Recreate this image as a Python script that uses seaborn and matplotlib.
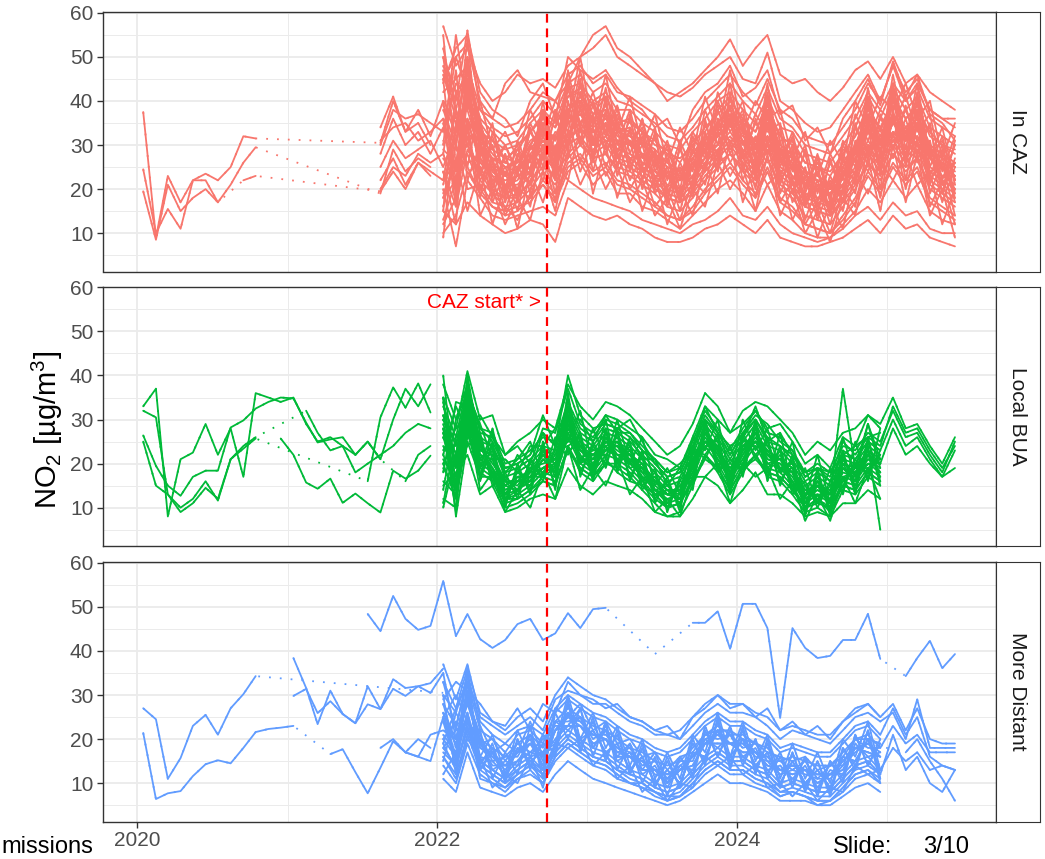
import numpy as np
import pandas as pd
import matplotlib
matplotlib.use("Agg")
import matplotlib.pyplot as plt
import matplotlib.dates as mdates
import seaborn as sns

# ---------------- data (monthly NO2, µg/m3) ----------------
PANELS = ["In CAZ", "Local BUA", "More Distant"]
COLORS = ["#F8766D", "#00BA38", "#619CFF"]
CAZ_START_DATE = "2022-09-26"
Y_TICKS = [10, 20, 30, 40, 50, 60]
Y_MINOR = [5, 15, 25, 35, 45, 55]
X_TICK_YEARS = [2020, 2022, 2024]
X_MINOR_YEARS = [2021, 2023, 2025]
N = None

# --- In CAZ ---
caz_e1 = [37.5, 9, 23, 17, 22, 23.5, 22, 25, 32, 31.5, N, N, N, N, N, N, N, N, N, 30.5, 40, 33, 35, 30]
caz_e2 = [24.5, 10, 15.5, 11, 22, 22, 17, 21, 26, 29.5, N, N, N, N, N, N, N, N, N, 19, 29, 24, 27, 25]
caz_e3 = [19.5, 8.5, 21, 15, 18, 20, 17, N, 22, 23, N, N, N, N, N, N, N, N, N, 19.5, 24, 20, 26, 23]
caz_01 = [57, 48, 52, 44, 40, 42, 46, 44, 45, 43, 48, 50, 52, 55, 50, 48, 46, 44, 40, 42, 44, 47, 50, 54, 48, 52, 55, 46, 44, 45, 42, 40, 43, 47, 49, 45, 50, 44, 46, 42, 40, 38]
caz_02 = [48, 40, 56, 38, 36, 44, 47, 42, 41, 40, 44, 50, 55, 57, 52, 50, 47, 44, 42, 41, 43, 46, 48, 50, 45, 44, 51, 40, 38, 35, 33, 34, 38, 42, 46, 40, 48, 40, 44, 38, 36, 36]
caz_03 = [15, 12, 17, 14, 12, 10, 11, 13, 12, 8, 18, 16, 14, 13, 14, 12, 11, 9, 8, 8, 9, 11, 12, 14, 12, 10, 13, 9, 8, 7, 7, 8, 9, 11, 13, 10, 14, 11, 12, 9, 8, 7]
caz_04 = [20, 7, 22, 18, 14, 13, 14, 15, 16, 14, 22, 20, 18, 17, 16, 15, 13, 12, 11, 10, 12, 13, 15, 18, 14, 13, 16, 12, 10, 9, 8, 9, 11, 14, 16, 13, 17, 14, 15, 11, 10, 10]
caz_05 = [34, 41, 33, 38, 32, 40, 35, 47, 36, 33, 30, 31, 35, 38, 35, 43, 44, 40, 42, 38, 38, 35, 33, 30, 29, 33, 36, 40, 42, 38, 35, 41, 34, 33, 28, 27, 26, 30, 34, 41, 36, 43, 38, 41, 34, 32, 30]
caz_06 = [28, 36, 30, 33, 28, 34, 30, 44, 31, 27, 26, 25, 30, 35, 31, 38, 41, 37, 38, 34, 33, 31, 29, 26, 24, 28, 32, 35, 39, 34, 31, 37, 30, 28, 24, 23, 21, 26, 30, 37, 32, 39, 34, 37, 30, 28, 26]
caz_07 = [25, 31, 27, 29, 31, 25, 33, 36, 30, 22, 24, 20, 27, 29, 28, 32, 38, 30, 35, 29, 31, 26, 24, 23, 20, 23, 29, 30, 35, 28, 28, 32, 27, 23, 21, 18, 19, 21, 27, 30, 29, 33, 31, 32, 27, 23, 23]
caz_08 = [22, 27, 21, 26, 24, 22, 26, 30, 25, 20, 18, 19, 21, 27, 22, 30, 32, 28, 30, 26, 25, 23, 21, 18, 17, 20, 24, 27, 30, 26, 23, 29, 22, 20, 16, 15, 14, 18, 22, 28, 24, 30, 26, 29, 22, 20, 18]
caz_09 = [18, 22, 28, 20, 16, 14, 15, 18, 22, 19, 26, 28, 24, 26, 22, 21, 19, 17, 14, 13, 16, 20, 23, 26, 22, 19, 25, 18, 16, 12, 11, 10, 14, 18, 24, 20, 26, 22, 25, 18, 16, 14]
caz_10 = [45, 50, 53, 40, 36, 34, 35, 38, 42, 40, 46, 48, 44, 46, 42, 41, 39, 37, 34, 33, 36, 40, 43, 46, 42, 39, 45, 38, 36, 32, 31, 30, 34, 38, 44, 40, 48, 42, 45, 38, 36, 34]
caz_11 = [31, 34, 35, 31, 33, 36, 24, 42, 32, 26, 23, 24, 28, 31, 29, 36, 37, 34, 36, 32, 31, 28, 27, 24, 23, 26, 30, 33, 36, 32, 29, 35, 28, 26, 22, 21, 20, 24, 28, 34, 30, 36, 32, 35, 28, 26, 24]
caz_12 = [20, 25, 23, 28, 26, 28, 20, 35, 27, 22, 21, 21, 24, 28, 25, 31, 34, 30, 32, 28, 27, 25, 23, 20, 19, 22, 26, 29, 32, 28, 25, 31, 24, 22, 18, 17, 16, 20, 24, 30, 26, 32, 28, 31, 24, 22, 20]
caz_13 = [52, 38, 50, 33, 31, 27, 29, 33, 36, 34, 41, 42, 37, 41, 35, 36, 33, 30, 29, 26, 31, 33, 38, 41, 35, 33, 40, 31, 31, 26, 25, 23, 28, 32, 39, 33, 41, 36, 38, 33, 30, 29]
caz_14 = [12, 18, 32, 22, 19, 16, 17, 20, 24, 21, 27, 30, 27, 28, 24, 23, 21, 19, 16, 15, 18, 22, 25, 28, 24, 21, 27, 20, 18, 14, 13, 12, 16, 20, 26, 22, 28, 24, 27, 20, 18, 16]
caz_15 = [42, 45, 48, 38, 34, 32, 33, 36, 40, 37, 44, 46, 42, 44, 40, 39, 37, 35, 32, 31, 34, 38, 41, 44, 40, 37, 43, 36, 34, 30, 29, 28, 32, 36, 42, 38, 44, 40, 43, 36, 34, 32]
caz_16 = [30, 38, 36, 37, 35, 33, 44, 41, 26, 25, 20, 23, 24, 32, 26, 37, 33, 33, 31, 31, 27, 28, 23, 23, 19, 25, 27, 33, 31, 31, 25, 35, 24, 25, 18, 20, 16, 23, 24, 34, 26, 36, 28, 35, 24, 25, 20]
caz_17 = [38, 30, 45, 34, 29, 27, 26, 31, 33, 32, 39, 40, 35, 39, 33, 34, 30, 28, 26, 24, 27, 31, 35, 38, 33, 31, 38, 29, 28, 24, 22, 21, 25, 30, 37, 31, 40, 33, 36, 29, 27, 25]
caz_18 = [24, 16, 29, 24, 19, 18, 18, 22, 25, 23, 28, 31, 27, 28, 25, 24, 22, 20, 18, 17, 19, 23, 26, 28, 25, 22, 27, 21, 19, 16, 15, 14, 17, 21, 26, 23, 28, 25, 27, 21, 19, 17]
caz_19 = [46, 36, 39, 32, 28, 25, 26, 30, 34, 31, 38, 40, 36, 37, 33, 32, 30, 28, 25, 24, 27, 31, 34, 37, 33, 30, 36, 29, 27, 23, 22, 21, 25, 29, 35, 31, 37, 33, 36, 29, 27, 25]
caz_20 = [27, 22, 33, 29, 23, 22, 23, 25, 30, 26, 33, 35, 31, 33, 29, 28, 26, 24, 21, 20, 23, 27, 30, 33, 29, 26, 32, 25, 23, 19, 18, 17, 21, 25, 31, 27, 33, 29, 32, 25, 23, 21]
caz_21 = [31, 29, 26, 27, 24, 21, 22, 27, 31, 28, 35, 37, 33, 35, 31, 30, 28, 26, 23, 22, 25, 29, 32, 35, 31, 28, 34, 27, 25, 21, 20, 19, 23, 27, 33, 29, 35, 31, 34, 27, 25, 23]
caz_22 = [19, 25, 36, 26, 23, 19, 20, 23, 28, 24, N, N, 29, 31, 27, 26, 24, 22, 19, 18, 21, 25, 28, 31, 27, 24, 30, 23, 21, 17, 16, 15, 19, 23, 29, 25, 31, 27, 30, 23, 21, 19]
caz_23 = [10, 14, 24, 19, 16, 15, 16, 17, 21, 18, 25, 27, 23, 25, 21, 20, 18, 16, 14, 13, 15, 19, 22, 25, 21, 18, 24, 17, 15, 12, 11, 10, 13, 17, 23, 19, 25, 21, 24, 17, 15, 13]
caz_24 = [50, 42, 46, 35, 31, 29, 30, 33, 37, 34, 41, 43, 39, 41, 36, 35, 33, 31, 28, 27, 30, 34, 37, 40, 36, 33, 39, 32, 30, 26, 25, 24, 28, 32, 38, 34, 40, 36, 39, 32, 30, 28]
caz_25 = [35, 20, 44, 23, 30, 18, 27, 21, 35, 23, 40, 30, 37, 28, 35, 24, 32, 20, 27, 17, 29, 24, 36, 28, 35, 22, 38, 21, 29, 16, 24, 14, 27, 21, 37, 23, 41, 25, 38, 21, 29, 17]
caz_26 = [22, 38, 30, 35, 18, 28, 17, 30, 24, 32, 29, 42, 26, 38, 25, 34, 22, 29, 18, 26, 20, 33, 26, 39, 24, 32, 28, 31, 19, 25, 15, 23, 17, 31, 27, 34, 29, 36, 27, 31, 19, 27]
caz_27 = [44, 52, 55, 42, 38, 36, 32, 40, 44, 36, 50, 47, 45, 47, 43, 40, 38, 34, 36, 30, 38, 42, 44, 48, 41, 43, 47, 37, 39, 31, 34, 28, 36, 40, 45, 39, 49, 41, 46, 37, 35, 31]
caz_28 = [16, 30, 20, 21, 17, 16, 13, 19, 21, 17, 24, 26, 21, 24, 19, 19, 16, 15, 13, 11, 14, 17, 20, 22, 19, 15, 21, 15, 13, 10, 9, 9, 12, 15, 20, 17, 22, 18, 21, 15, 13, 12]
caz_29 = [39, 33, 49, 30, 27, 25, 24, 29, 33, 29, 38, 40, 35, 37, 33, 32, 30, 28, 25, 24, 27, 31, 34, 37, 33, 30, 36, 29, 27, 23, 22, 21, 25, 29, 35, 31, 37, 33, 36, 29, 27, 25]
caz_30 = [29, 26, 40, 30, 25, 23, 24, 27, 31, 28, 35, 37, 33, 35, 31, 30, 28, 26, 23, 22, 25, 29, 32, 35, 31, 28, 34, 27, 25, 21, 20, 19, 23, 27, 33, 29, 35, 31, 34, 27, 25, 23]
caz_31 = [45, 18, 50, 31, 21, 25, 19, 30, 27, 33, 31, 40, 28, 37, 27, 33, 24, 28, 19, 25, 21, 32, 28, 37, 27, 31, 30, 29, 21, 24, 16, 22, 19, 30, 29, 32, 31, 34, 30, 30, 21, 26]
caz_32 = [15, 42, 30, 22, 27, 17, 25, 21, 34, 22, 38, 30, 36, 29, 33, 25, 30, 21, 25, 17, 27, 24, 35, 29, 33, 23, 37, 22, 27, 16, 22, 14, 25, 22, 36, 24, 38, 26, 37, 22, 27, 18]
caz_33 = [55, 25, 47, 35, 26, 30, 24, 33, 28, 36, 30, 44, 30, 40, 28, 36, 25, 32, 20, 29, 22, 35, 27, 41, 28, 35, 31, 33, 22, 28, 17, 26, 20, 34, 28, 36, 32, 38, 31, 34, 22, 30]
caz_34 = [9, 35, 25, 19, 22, 14, 20, 18, 28, 17, 33, 24, 31, 23, 28, 20, 25, 16, 20, 13, 22, 19, 29, 23, 28, 18, 31, 17, 22, 12, 17, 10, 20, 16, 30, 18, 33, 20, 31, 16, 22, 12]
caz_35 = [33, 50, 42, 24, 30, 19, 28, 23, 37, 24, 43, 31, 39, 30, 36, 26, 33, 22, 28, 18, 30, 25, 38, 30, 36, 24, 40, 23, 30, 17, 25, 15, 28, 23, 39, 25, 42, 27, 40, 23, 30, 19]
caz_36 = [24, 12, 45, 36, 20, 28, 18, 34, 25, 37, 29, 45, 27, 41, 25, 37, 22, 33, 17, 30, 19, 36, 24, 42, 25, 36, 28, 34, 19, 29, 14, 27, 17, 35, 25, 37, 29, 39, 28, 35, 19, 31]
caz_37 = [40, 22, 35, 18, 33, 26, 30, 19, 38, 28, 45, 33, 40, 32, 37, 30, 34, 24, 30, 20, 32, 27, 40, 33, 38, 26, 42, 25, 32, 19, 27, 17, 30, 25, 41, 27, 44, 29, 42, 25, 32, 21]
caz_38 = [28, 47, 22, 30, 17, 24, 15, 28, 22, 30, 27, 39, 24, 35, 23, 31, 20, 27, 16, 24, 18, 31, 24, 36, 22, 30, 26, 28, 17, 23, 13, 21, 15, 29, 24, 31, 27, 33, 26, 29, 17, 25]
caz_39 = [50, 30, 54, 27, 35, 20, 31, 24, 40, 26, 47, 34, 42, 33, 39, 28, 36, 25, 31, 22, 33, 28, 42, 34, 40, 27, 44, 26, 33, 20, 28, 18, 31, 26, 43, 28, 46, 31, 44, 27, 34, 22]
caz_40 = [18, 27, 15, 25, 12, 21, 11, 24, 17, 26, 22, 34, 19, 30, 18, 27, 15, 23, 12, 20, 14, 26, 19, 31, 17, 26, 21, 24, 13, 19, 9, 17, 11, 24, 19, 26, 22, 28, 21, 24, 12, 20]
caz_41 = [36, 16, 41, 33, 24, 30, 23, 35, 29, 38, 33, 47, 31, 43, 30, 38, 27, 34, 22, 31, 24, 38, 30, 44, 30, 37, 33, 35, 24, 30, 19, 28, 22, 37, 31, 38, 35, 41, 33, 37, 24, 32]
caz_42 = [21, 33, 48, 20, 26, 15, 24, 16, 30, 19, 36, 26, 34, 25, 31, 22, 28, 19, 24, 15, 26, 21, 33, 26, 31, 20, 35, 19, 26, 13, 21, 12, 24, 19, 34, 20, 37, 22, 35, 19, 26, 14]
caz_43 = [47, 38, 25, 40, 29, 33, 27, 38, 32, 40, 36, 50, 34, 46, 33, 41, 30, 37, 26, 34, 28, 41, 33, 47, 33, 40, 36, 38, 27, 33, 23, 31, 26, 40, 34, 41, 38, 44, 36, 40, 27, 35]
caz_44 = [13, 22, 34, 14, 20, 12, 18, 13, 24, 15, 29, 21, 27, 20, 25, 17, 22, 14, 18, 11, 20, 16, 26, 20, 25, 15, 28, 14, 20, 10, 15, 8, 18, 14, 27, 15, 30, 17, 28, 14, 20, 9]
caz_45 = [30, 55, 38, 28, 32, 23, 29, 26, 38, 27, 44, 35, 40, 33, 38, 30, 35, 27, 29, 22, 31, 29, 39, 35, 37, 29, 41, 28, 31, 21, 26, 20, 29, 28, 40, 30, 43, 31, 41, 28, 31, 22]
caz_series = [caz_e1, caz_e2, caz_e3, caz_01, caz_02, caz_03, caz_04, caz_05, caz_06, caz_07, caz_08,
              caz_09, caz_10, caz_11, caz_12, caz_13, caz_14, caz_15, caz_16, caz_17, caz_18, caz_19,
              caz_20, caz_21, caz_22, caz_23, caz_24, caz_25, caz_26, caz_27, caz_28, caz_29, caz_30,
              caz_31, caz_32, caz_33, caz_34, caz_35, caz_36, caz_37, caz_38, caz_39, caz_40, caz_41,
              caz_42, caz_43, caz_44, caz_45]
caz_starts = ["2020-01", "2020-01", "2020-01", "2022-01", "2022-01", "2022-01", "2022-01", "2021-08", "2021-08",
              "2021-08", "2021-08", "2022-01", "2022-01", "2021-08", "2021-08", "2022-01", "2022-01", "2022-01",
              "2021-08"] + ["2022-01"] * 29

# --- Local BUA ---
bua_e1 = [33, 37, 8, 21, 22.5, 29, 22, 28, 17, 36, 35, 34, 35, 29, 25, 26, 24, 22, 25, 21, 30, 37, 33, 38]
bua_e2 = [32, 30.5, 13, 9, 11, 14.5, 12, 21, 24, 26, N, N, N, 32, 27, 23, 24, 18, 20, 22, 24, 27, 29, 28]
bua_e3 = [26.4, 19.5, 15, 12.7, 17, 18.4, 18.4, 28.2, 29.8, 32.5, 34, 35, 34.8, 29.3, 24.8, 25.5, 26, 22, 25, 21, N, 16, 22, 24]
bua_e4 = [25, 15, 13, 10, 12, 16, 11.6, 21, 23.4, 25.7, N, N, N, N, N, N, N, N, 16, 30.5, 37.3, 32.7, 38.2, 31.6]
bua_e5 = [25.7, 22, 15.7, 14.3, 16.6, 11.1, 13.2, 11, 8.9, 18.4, 16.6, 18.4, 21.8]
bua_01 = [35, 28, 41, 30, 31, 22, 25, 27, 30, 28, 38, 33, 30, 34, 33, 31, 28, 25, 22, 24, 29, 36, 33, 27, 32, 34, 33, 30, 27, 22, 25, 23, 27, 28, 31, 29, 35, 28, 29, 24, 20, 26]
bua_02 = [31, 24, 37, 28, 27, 20, 21, 23, 26, 25, 34, 28, 26, 30, 29, 27, 24, 21, 18, 19, 25, 32, 28, 23, 28, 32, 27, 26, 23, 18, 20, 18, 24, 23, 27, 25, 32, 26, 27, 22, 18, 25]
bua_03 = [29, 20, 35, 26, 24, 18, 19, 21, 24, 23, 32, 26, 24, 28, 27, 25, 22, 19, 16, 17, 23, 30, 26, 21, 26, 30, 25, 24, 21, 16, 18, 16, 22, 21, 25, 23, 30, 24, 26, 21, 17, 23]
bua_04 = [26, 17, 33, 22, 21, 14, 16, 17, 21, 19, 29, 23, 20, 25, 23, 21, 19, 15, 13, 14, 19, 27, 22, 18, 22, 27, 21, 20, 18, 13, 14, 13, 19, 18, 22, 20, 28, 22, 24, 20, 17, 19]
bua_05 = [38, 30, 36, 28, 25, 19, 20, 22, 31, 24, 40, 31, 28, 29, 28, 30, 25, 20, 17, 18, 24, 31, 27, 22, 27, 31, 29, 25, 23, 17, 19, 17, 25, 22, 26, 24, 33, 27, 28, 23, 19, 24]
bua_06 = [22, 15, 30, 20, 18, 12, 13, 15, 18, 17, 26, 20, 18, 22, 21, 19, 16, 13, 10, 11, 17, 24, 20, 15, 20, 24, 19, 18, 15, 10, 12, 10, 16, 15, 19, 17]
bua_07 = [20, 12, 28, 18, 16, 10, 11, 13, 16, 15, 24, 18, 16, 20, 19, 17, 14, 11, 8, 9, 15, 22, 18, 13, 18, 22, 17, 16, 13, 9, 10, 8, 14, 13, 17, 15]
bua_08 = [30, 22, 36, 25, 24, 17, 18, 20, 23, 22, 31, 25, 23, 27, 26, 24, 21, 18, 15, 16, 22, 29, 25, 20, 25, 29, 24, 23, 20, 15, 17, 15, 21, 20, 24, 22]
bua_09 = [12, 10, 40, 24, 19, 13, 16, 16, 19, 20, 27, 21, 21, 23, 24, 20, 19, 14, 13, 12, 20, 25, 23, 16, 23, 25, 22, 19, 18, 11, 15, 11, 19, 16, 22, 18]
bua_10 = [35, 8, 25, 17, 17, 11, 12, 14, 17, 16, 23, 19, 17, 21, 18, 16, 15, 12, 10, 11, 16, 21, 19, 14, 19, 21, 18, 17, 14, 10, 11, 10, 15, 14, 18, 16]
bua_11 = [24, 19, 31, 23, 22, 15, 17, 18, 22, 18, 30, 24, 21, 26, 22, 22, 20, 16, 13, 15, 20, 28, 23, 19, 23, 28, 22, 21, 19, 14, 15, 14, 20, 19, 23, 21]
bua_12 = [27, 21, 34, 24, 20, 16, 15, 19, 20, 21, 26, 24, 22, 24, 25, 23, 18, 17, 14, 13, 21, 25, 24, 18, 24, 25, 23, N, 19, 13, 16, 13, 21, 17, 21, 20]
bua_13 = [16, 13, 27, 19, 17, 12, 12, 14, 16, 15, 24, 19, 17, 20, 20, 18, 15, 13, 10, 11, 16, 22, 19, 14, 19, 22, 18, 17, 14, 10, 12, 9, 15, 14, 18, 16]
bua_14 = [33, 26, 38, 27, 26, 19, 20, 22, 27, 24, 33, 27, 25, 29, 28, 26, 23, 20, 17, 18, 24, 30, 27, 22, 27, 30, 26, 24, 22, 17, 19, 16, 23, 21, 25, 23]
bua_15 = [19, 14, 29, 21, 19, 13, 14, 16, 19, 18, 27, 21, 19, 23, 22, 20, 17, 14, 11, 12, 18, 25, 21, 16, 21, 25, 20, 19, 16, 11, 13, 11, 17, 16, 20, 18]
bua_16 = [23, 28, 31, 21, 24, 13, 18, 16, 23, 18, 31, 21, 23, 23, 26, 20, 21, 14, 15, 12, 22, 25, 25, 16, 25, 25, 24, 19, 20, 11, 17, 11, 21, 16, 24, 5]
bua_17 = [28, 20, 33, 23, 22, 16, 16, 19, 22, 20, 29, 23, 21, 25, 24, 22, 19, 16, 13, 14, 20, 27, 23, 18, 23, 27, 22, 21, 18, 13, 15, 13, 37, 19, 29, 21]
bua_18 = [21, 16, 32, 22, 19, 12, 14, 17, 17, 19, 28, 22, 18, 24, 21, 21, 18, 14, 12, 13, 19, 26, 22, 17, 22, 26, 21, 20, 17, 12, 14, 12, 18, 17, 21, 19]
bua_19 = [35, 12, 26, 26, 15, 18, 12, 21, 16, 24, 22, 27, 16, 28, 19, 25, 14, 19, 9, 17, 15, 30, 18, 21, 18, 30, 17, 24, 13, 16, 10, 16, 14, 21, 17, 23]
bua_20 = [14, 30, 38, 17, 24, 11, 19, 14, 24, 15, 33, 18, 24, 20, 27, 17, 22, 12, 16, 10, 23, 22, 26, 14, 26, 22, 25, 16, 21, 9, 18, 9, 22, 14, 25, 16]
bua_21 = [28, 9, 35, 25, 17, 16, 13, 19, 18, 22, 25, 25, 18, 26, 21, 23, 16, 17, 11, 15, 17, 28, 20, 19, 20, 28, 19, 22, 15, 14, 12, 14, 16, 19, 19, 21]
bua_22 = [20, 25, 28, 19, 23, 12, 17, 15, 23, 17, 31, 20, 22, 22, 25, 19, 20, 13, 14, 11, 21, 24, 24, 15, 24, 24, 23, 18, 19, 10, 16, 10, 20, 15, 23, 17]
bua_23 = [40, 15, 30, 24, 18, 15, 14, 18, 19, 21, 26, 24, 19, 25, 22, 22, 17, 16, 13, 14, 18, 27, 21, 18, 21, 27, 20, 21, 16, 13, 13, 13, 17, 18, 20, 20]
bua_24 = [10, 22, 36, 20, 21, 13, 16, 16, 21, 18, 29, 21, 21, 23, 24, 20, 19, 14, 13, 12, 20, 25, 23, 16, 23, 25, 22, 19, 18, 11, 15, 11, 19, 16, 22, 18]
bua_25 = [31, 20, 24, 27, 16, 17, 14, 20, 17, 23, 24, 26, 17, 27, 20, 24, 15, 18, 10, 16, 16, 29, 19, 20, 19, 29, 18, 23, 14, 15, 11, 15, 15, 20, 18, 22]
bua_26 = [18, 34, 33, 16, 25, 10, 20, 13, 25, 14, 35, 17, 25, 19, 28, 16, 23, 11, 17, 9, 24, 21, 27, 13, 27, 21, 26, 15, 22, 8, 19, 8, 23, 13, 26, 15]
bua_27 = [27, 14, 39, 21, 19, 15, 17, 17, 22, 21, 30, 23, 22, 25, 25, 22, 20, 16, 14, 14, 21, 27, 24, 18, 24, 27, 23, 21, 19, 13, 16, 13, 20, 18, 23, 20]
bua_28 = [30, 25, 29, 31, 26, 22, 24, 20, 28, 27, 37, 29, 27, 31, 30, 28, 26, 22, 21, 19, 26, 33, 30, 27, 29, 32, 28, 29, 25, 20, 22, 19, 26, 24, 31, 28]
bua_29 = [15, 18, 22, 13, 15, 9, 10, 12, 13, 12, 19, 15, 13, 16, 15, 14, 12, 9, 8, 8, 12, 17, 15, 11, 14, 18, 13, 13, 11, 8, 9, 8, 11, 11, 14, 12]
bua_30 = [22, 33, 27, 17, 27, 18, 21, 25, 17, 26, 25, 32, 19, 30, 18, 26, 21, 21, 15, 19, 14, 30, 19, 24, 17, 29, 16, 27, 14, 19, 11, 19, 13, 25, 16, 28]
bua_31 = [34, 19, 36, 29, 21, 21, 18, 24, 24, 28, 30, 30, 25, 31, 27, 27, 23, 21, 18, 20, 23, 33, 27, 24, 26, 33, 25, 27, 22, 18, 19, 18, 22, 24, 26, 27]
bua_32 = [11, 26, 30, 14, 18, 9, 14, 10, 18, 12, 24, 14, 19, 15, 21, 13, 17, 9, 12, 8, 17, 17, 20, 11, 20, 17, 19, 12, 16, 7, 13, 7, 17, 11, 19, 12]
bua_33 = [26, 21, 38, 19, 28, 16, 22, 18, 27, 19, 36, 20, 28, 21, 30, 20, 26, 15, 19, 13, 26, 23, 30, 17, 30, 23, 28, 18, 25, 12, 22, 11, 26, 17, 29, 19]
bua_series = [bua_e1, bua_e2, bua_e3, bua_e4, bua_e5, bua_01, bua_02, bua_03, bua_04, bua_05, bua_06, bua_07,
              bua_08, bua_09, bua_10, bua_11, bua_12, bua_13, bua_14, bua_15, bua_16, bua_17, bua_18,
              bua_19, bua_20, bua_21, bua_22, bua_23, bua_24, bua_25, bua_26, bua_27, bua_28, bua_29,
              bua_30, bua_31, bua_32, bua_33]
bua_starts = ["2020-01", "2020-01", "2020-01", "2020-01", "2020-12"] + ["2022-01"] * 33

# --- More Distant ---
dist_e1 = [27, 24.5, 11, 15.7, 23, 25.5, 21, 27, 30.2, 34.3, N, N, N, N, N, N, N, N, N, N, N, N, N, N, 30.5]
dist_e2 = [21.4, 6.4, 7.7, 8.2, 11.6, 14.3, 15.2, 14.5, 18, 21.6, 22.3, 22.6, 23, N, N, 16.6, 17.7, 12.5, 7.7, 13.5, 19.5, 17, 20, 18]
dist_e3 = [38.4, 31.6, 23.4, 31, 25.7, 23.6, 32, 26.8, 33.6, 31.6, 32, 32.7, 36]
dist_e4 = [29.8, 31.4, 25.9, 28.6, 25.7, 23.6, 27.9, 26.8, 31.4, 29.8, 32, 30.5, 35]
dist_top = [48.4, 44.5, 52.5, 47.3, 44.8, 45.7, 55.9, 43.4, 48.4, 42.7, 40.7, 42.5, 46.1, 47.3, 42.5, 44, 48.6, 45.2,
            49.5, 49.8, N, N, N, 39.3, N, N, 46.4, 46.4, 49, 40.5, 50.7, 50.7, 45.2, 24.8, 45.2, 40.7, 38.4, 38.9,
            42.5, 42.5, 48.4, 38.2, N, 34.3, 38.4, 42.3, 36.1, 39.3]
dist_01 = [33, 27, 36, 26, 24, 22, 25, 27, 24, 30, 34, 32, 30, 29, 27, 25, 24, 22, 21, 22, 25, 28, 30, 28, 28, 26, 25, 22, 23, 22, 21, 21, 24, 27, 28, 25, 28, 22, 27, 20, 19, 19]
dist_02 = [37, 29, 37, 25, 23, 21, 23, 25, 22, 29, 31, 30, 28, 28, 26, 24, 23, 21, 21, 20, 23, 26, 28, 26, 26, 25, 23, 20, 22, 21, 20, 19, 22, 25, 26, 24, 26, 20, 29, 18, 18, 18]
dist_03 = [26, 20, 30, 20, 18, 16, 19, 21, 18, 24, 27, 25, 23, 22, 20, 18, 17, 15, 14, 15, 18, 21, 23, 21, 21, 19, 18, 15, 16, 15, 14, 14, 17, 20, 21, 18, 23, 19, 21, 17, 17, 17]
dist_04 = [20, 16, 25, 15, 13, 11, 14, 16, 13, 19, 22, 20, 18, 17, 15, 13, 12, 10, 9, 10, 13, 16, 18, 16, 16, 14, 13, 10, 11, 10, 9, 9, 12, 15, 16, 13, 18, 15, 17, 13, 14, 13]
dist_05 = [24, 19, 28, 19, 16, 14, 17, 19, 16, 22, 25, 23, 21, 20, 18, 16, 15, 13, 12, 13, 16, 19, 21, 19, 19, 17, 16, 13, 14, 13, 12, 12, 15, 18, 19, N, N, 17, 20, 15, 11, 6]
dist_06 = [18, 14, 23, 14, 12, 10, 12, 14, 12, 17, 20, 18, 16, 15, 13, 11, 10, 8, 7, 8, 11, 14, 16, 14, 14, 12, 11, 8, 9, 8, 7, 7, 10, 13, 14, 12]
dist_07 = [18, 20, 17, 16, 21, 22, 20, 31, 18, 16, 13, 17, 20, 14, 22, 26, 24, 21, 20, 17, 16, 15, 12, 11, 13, 16, 19, 22, 19, 19, 16, 15, 12, 13, 12, 11, 11, 14, 17, 19, 16]
dist_08 = [16, 12, 21, 13, 11, 9, 12, 14, 11, 16, 19, 17, 15, 14, 12, 10, 10, 8, 7, 7, 10, 13, 15, 13, 13, 11, 10, 8, 8, 7, 6, 6, 9, 12, 13, 11]
dist_09 = [28, 23, 33, 22, 20, 17, 21, 22, 19, 26, 29, 27, 25, 24, 22, 20, 19, 17, 16, 17, 20, 23, 25, 23, 23, 21, 20, 17, 18, 17, 16, 16, 19, 22, 23, 20]
dist_10 = [14, 10, 19, 12, 10, 8, 11, 12, 10, 15, 18, 16, 14, 13, 11, 10, 9, 7, 6, 7, 9, 12, 14, 12, 12, 10, 9, 7, 8, 7, 5, 6, 8, 11, 12, 10]
dist_11 = [17, 16, 15, 25, 15, 26, 16, 15, 12, 15, 17, 16, 20, 23, 23, 19, 20, 16, 16, 13, 13, 10, 13, 14, 19, 19, 19, 17, 17, 14, 13, 12, 13, 10, 12, 13, 18, 17, 16]
dist_12 = [21, 17, 29, 18, 17, 14, 17, 19, 17, 22, 25, 24, 21, 21, 18, 17, 15, 13, 12, 14, 16, 20, 21, 19, 20, 17, 16, 13, 14, 13, 12, 12, 15, 18, 19, 17]
dist_13 = [19, 13, 24, 15, 13, 11, 13, 15, 13, 18, 21, 19, 17, 16, 14, 12, 11, 9, 8, 9, 12, 15, 17, 15, 15, 13, 12, 9, 10, 9, 8, 8, 11, 14, 15, 12]
dist_14 = [30, 26, 34, 24, 21, 19, 22, 23, 21, 27, 30, 28, 26, 25, 23, 21, 20, 18, 17, 18, 21, 24, 26, 24, 24, 22, 21, 18, 19, 18, 17, 17, 20, 23, 24, 21, 27, 21, 25, 16, 14, 13]
dist_15 = [17, 14, 22, 14, 12, 10, 13, 15, 12, 17, 20, 18, 16, 15, 13, 12, 11, 9, 8, 9, 12, 15, 17, 15, 15, 13, 12, 9, 10, 9, 8, 8, 11, 14, 15, 12, 21, 13, 16, 10, 8, 13]
dist_16 = [30, 12, 33, 14, 19, 10, 20, 14, 19, 17, 28, 18, 24, 16, 21, 12, 18, 9, 15, 9, 19, 15, 24, 14, 22, 13, 19, 9, 17, 9, 15, 8, 18, 14, 22, 11]
dist_17 = [15, 26, 21, 22, 11, 17, 12, 23, 11, 26, 20, 27, 16, 24, 13, 19, 10, 16, 7, 16, 11, 22, 16, 23, 14, 20, 11, 16, 9, 16, 7, 15, 10, 21, 14, 19]
dist_18 = [26, 16, 36, 13, 17, 11, 18, 15, 17, 18, 26, 19, 22, 17, 19, 13, 16, 10, 13, 10, 17, 16, 22, 15, 20, 14, 17, 10, 15, 10, 13, 9, 16, 15, 20, 12]
dist_19 = [18, 22, 24, 20, 13, 15, 14, 21, 13, 24, 22, 25, 18, 22, 15, 17, 12, 14, 9, 14, 13, 20, 18, 21, 16, 18, 13, 14, 11, 14, 9, 13, 12, 19, 16, 17]
dist_20 = [35, 20, 30, 16, 21, 12, 22, 16, 21, 19, 30, 20, 26, 18, 23, 14, 20, 11, 17, 11, 21, 17, 26, 16, 24, 15, 21, 11, 19, 11, 17, 10, 20, 16, 24, 13]
dist_21 = [12, 17, 26, 11, 10, 9, 11, 13, 10, 16, 19, 17, 15, 14, 12, 10, 9, 8, 6, 7, 10, 13, 15, 13, 13, 11, 10, 7, 8, 7, 6, 6, 9, 12, 13, 10]
dist_22 = [24, 14, 31, 19, 14, 14, 15, 19, 14, 22, 23, 23, 19, 20, 16, 16, 13, 13, 10, 13, 14, 19, 19, 19, 17, 17, 14, 13, 12, 13, 10, 12, 13, 18, 17, 16]
dist_23 = [20, 24, 22, 15, 17, 11, 18, 16, 17, 19, 26, 20, 22, 17, 19, 13, 16, 10, 13, 10, 17, 16, 22, 16, 20, 14, 17, 10, 15, 10, 13, 9, 16, 15, 20, 13]
dist_24 = [28, 18, 29, 21, 15, 16, 16, 21, 15, 24, 24, 25, 20, 22, 17, 18, 14, 15, 11, 15, 15, 21, 20, 21, 18, 19, 15, 15, 13, 15, 11, 14, 14, 20, 18, 18]
dist_25 = [16, 11, 20, 16, 9, 12, 10, 16, 9, 19, 18, 20, 14, 17, 11, 14, 8, 11, 6, 10, 9, 16, 14, 16, 12, 14, 9, 10, 7, 10, 6, 9, 8, 14, 12, 13]
dist_26 = [29, 33, 31, 28, 24, 23, 27, 22, 28, 26, 33, 30, 29, 27, 28, 25, 24, 22, 23, 20, 25, 27, 30, 27, 28, 25, 27, 22, 24, 21, 23, 20, 24, 26, 28, 25]
dist_27 = [11, 8, 17, 9, 8, 7, 9, 10, 8, 12, 15, 13, 11, 10, 9, 8, 7, 6, 5, 6, 8, 10, 12, 10, 10, 9, 8, 6, 6, 6, 5, 5, 7, 9, 10, 8]
dist_28 = [25, 30, 24, 19, 20, 15, 19, 17, 20, 23, 23, 27, 18, 23, 16, 19, 13, 17, 10, 16, 12, 23, 16, 22, 15, 20, 12, 17, 10, 16, 8, 15, 11, 21, 14, 20]
dist_29 = [33, 22, 35, 23, 17, 19, 17, 24, 16, 27, 25, 28, 22, 24, 19, 20, 16, 17, 13, 16, 17, 21, 22, 22, 20, 19, 17, 16, 15, 16, 13, 14, 16, 20, 20, 19]
dist_30 = [19, 27, 33, 13, 18, 11, 20, 13, 21, 16, 29, 17, 25, 15, 22, 12, 19, 9, 16, 9, 20, 14, 25, 13, 23, 12, 20, 9, 17, 8, 15, 7, 18, 13, 22, 10]
dist_series = [dist_e1, dist_e2, dist_e3, dist_e4, dist_top, dist_01, dist_02, dist_03, dist_04, dist_05,
               dist_06, dist_07, dist_08, dist_09, dist_10, dist_11, dist_12, dist_13, dist_14, dist_15,
               dist_16, dist_17, dist_18, dist_19, dist_20, dist_21, dist_22, dist_23, dist_24, dist_25,
               dist_26, dist_27, dist_28, dist_29, dist_30]
dist_starts = ["2020-01", "2020-01", "2021-01", "2021-01", "2021-07", "2022-01", "2022-01", "2022-01", "2022-01",
               "2022-01", "2022-01", "2021-08", "2022-01", "2022-01", "2022-01", "2021-10", "2022-01", "2022-01",
               "2022-01", "2022-01"] + ["2022-01"] * 15

ALL_SERIES = [caz_series, bua_series, dist_series]
ALL_STARTS = [caz_starts, bua_starts, dist_starts]


def build(series, starts):
    frames = []
    for sid, (vals, st) in enumerate(zip(series, starts)):
        dates = pd.date_range(pd.Timestamp(st + "-15"), periods=len(vals), freq=pd.DateOffset(months=1))
        v = pd.Series([np.nan if x is None else float(x) for x in vals])
        seg = v.isna().cumsum()
        frames.append(pd.DataFrame({"date": dates, "value": v.values, "sid": sid,
                                    "unit": [f"{sid}_{s}" for s in seg]}))
    return pd.concat(frames, ignore_index=True).dropna(subset=["value"])


# ---------------- figure ----------------
sns.set_theme(style="white")
plt.rcParams['font.family'] = ['Liberation Sans', 'DejaVu Sans']
plt.rcParams['mathtext.fontset'] = 'custom'
plt.rcParams['mathtext.rm'] = 'Liberation Sans'

W, H = 1045, 859
fig = plt.figure(figsize=(W / 100, H / 100), dpi=100)

left_px, right_px, strip_right_px = 103, 996, 1040
panel_tops = [12, 286.5, 562]
panel_h = 259.5

caz_date = pd.Timestamp(CAZ_START_DATE)
xlim = (mdates.date2num(pd.Timestamp("2019-10-09")), mdates.date2num(pd.Timestamp("2025-09-23")))
grid_col = "#EBEBEB"
border_col = "#333333"

for i, (label, color) in enumerate(zip(PANELS, COLORS)):
    top = panel_tops[i]
    rect = [left_px / W, 1 - (top + panel_h) / H, (right_px - left_px) / W, panel_h / H]
    ax = fig.add_axes(rect)
    df = build(ALL_SERIES[i], ALL_STARTS[i])

    # dotted connection across gaps (drawn first)
    sns.lineplot(data=df, x="date", y="value", units="sid", estimator=None, color=color,
                 linewidth=1.3, linestyle=(0, (1, 5)), ax=ax, legend=False, sort=True)
    # solid observed segments
    sns.lineplot(data=df, x="date", y="value", units="unit", estimator=None, color=color,
                 linewidth=1.3, ax=ax, legend=False, sort=True)

    ax.axvline(mdates.date2num(caz_date), color="#FF0000", lw=1.6, dashes=(4, 2.6), zorder=6)

    ax.set_xlim(*xlim)
    ax.set_ylim(1.3, 60.2)
    ax.set_yticks(Y_TICKS)
    ax.set_yticks(Y_MINOR, minor=True)
    ax.set_xticks([mdates.date2num(pd.Timestamp(f"{y}-01-01")) for y in X_TICK_YEARS])
    ax.set_xticks([mdates.date2num(pd.Timestamp(f"{y}-01-01")) for y in X_MINOR_YEARS], minor=True)
    ax.grid(which="major", color=grid_col, lw=1.3)
    ax.grid(which="minor", color=grid_col, lw=0.7)
    ax.set_axisbelow(True)
    ax.set_xlabel("")
    ax.set_ylabel("")
    for sp in ax.spines.values():
        sp.set_color(border_col)
        sp.set_linewidth(1.0)
    ax.tick_params(axis="y", which="major", length=4, width=1, color=border_col,
                   labelsize=15, labelcolor="#4D4D4D", pad=3, left=True)
    ax.tick_params(axis="both", which="minor", length=0)
    if i == 2:
        ax.set_xticklabels([str(y) for y in X_TICK_YEARS])
        ax.tick_params(axis="x", which="major", length=4, width=1, color=border_col,
                       labelsize=15, labelcolor="#4D4D4D", pad=3, bottom=True)
    else:
        ax.tick_params(axis="x", which="major", length=0, labelbottom=False)

    if i == 1:
        ax.annotate("CAZ start* >", xy=(mdates.date2num(caz_date), 56.6), xytext=(-5, 0),
                    textcoords="offset points", ha="right", va="center", color="#FF0000", fontsize=15)

    # facet strip on the right
    sax = fig.add_axes([right_px / W, rect[1], (strip_right_px - right_px) / W, rect[3]])
    sax.set_facecolor("white")
    sax.set_xticks([])
    sax.set_yticks([])
    for sp in sax.spines.values():
        sp.set_color(border_col)
        sp.set_linewidth(0.8)
    sax.text(0.5, 0.5, label, rotation=-90, ha="center", va="center", fontsize=15,
             color="#1A1A1A", transform=sax.transAxes)

fig.text(47 / W, 1 - 430 / H, r"NO$_\mathregular{2}$ [µg/m$^\mathregular{3}$]", rotation=90,
         ha="center", va="center", fontsize=21, color="black")
fig.text(1 / W, 1 - 858 / H, "missions", ha="left", va="bottom", fontsize=17, color="black")
fig.text(833 / W, 1 - 858 / H, "Slide:", ha="left", va="bottom", fontsize=17, color="black")
fig.text(923 / W, 1 - 858 / H, "3/10", ha="left", va="bottom", fontsize=17, color="black")

fig.savefig("out.png", dpi=100, facecolor="white")
